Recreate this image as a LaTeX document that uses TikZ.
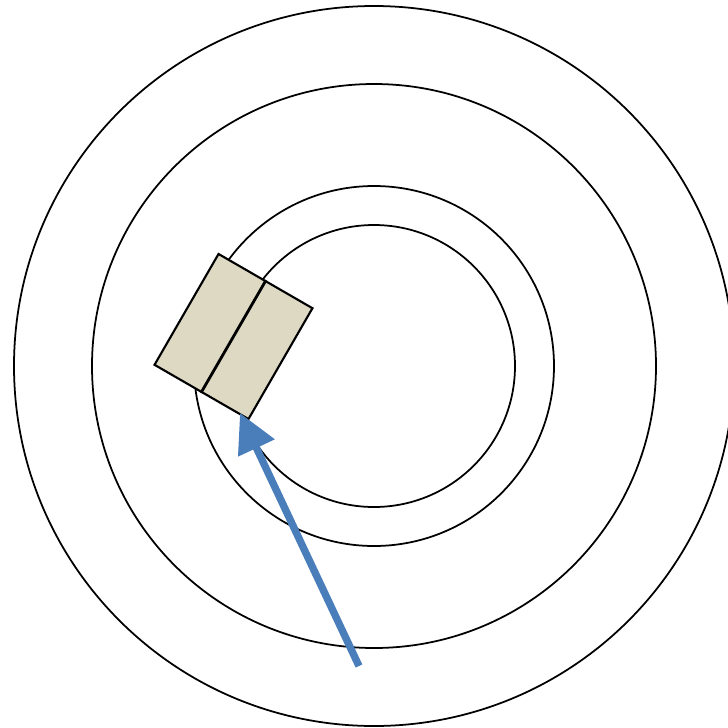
\documentclass[tikz,border=0pt]{standalone}
\usepackage{xcolor}
\usepackage{tikz}
\usetikzlibrary{arrows.meta}

\definecolor{boxtan}{RGB}{221,217,195}
\definecolor{arrowblue}{RGB}{74,126,187}

\begin{document}
\begin{tikzpicture}[x=0.02cm, y=-0.02cm,
    ring/.style={draw=black, line width=1pt},
    holder/.style={rectangle, draw=black, fill=boxtan, line width=1.2pt, minimum width=2.17cm, minimum height=2.56cm, inner sep=0pt, rotate=-30},
    split/.style={draw=black, line width=1.6pt},
    pointer/.style={draw=arrowblue, line width=4.2pt, -{Triangle[length=22pt, width=22pt]}}]

    \useasboundingbox (0,0) rectangle (728,728);

    % rings
    \coordinate (ctr) at (374,366);
    \foreach \r in {141,180,282,360}
        \path [ring] (ctr) circle [radius=\r];

    % box with its divider
    \node [holder] (box) at (233.5,336.5) {};
    \path [split] (box.north) -- (box.south);

    % arrow
    \coordinate (tail) at (359,666);
    \coordinate (tip) at (240,413);
    \path [pointer] (tail) -- (tip);
\end{tikzpicture}
\end{document}
